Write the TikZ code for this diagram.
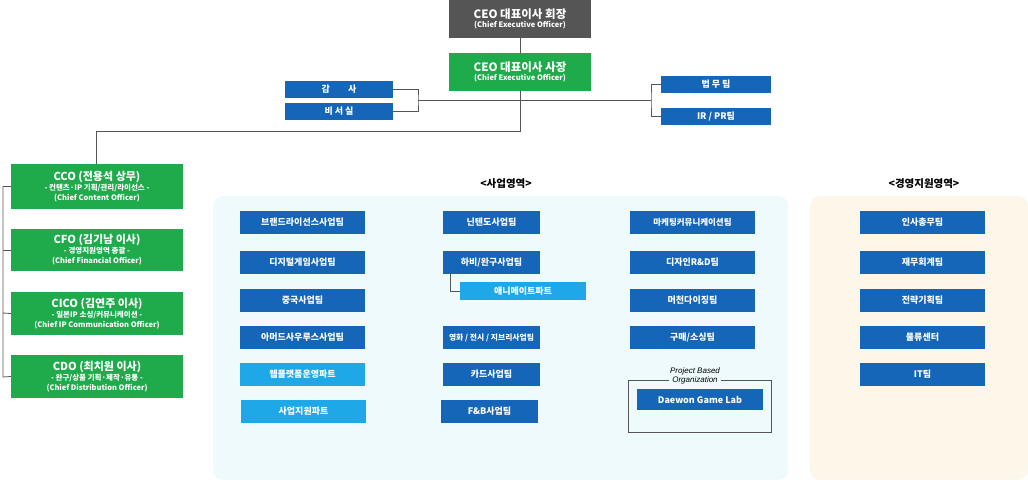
\documentclass[tikz,border=0pt]{standalone}
\usepackage{fontspec}
\setmainfont{Noto Sans CJK KR}
\newfontfamily\kr{Noto Sans CJK KR}
\newfontfamily\lat{Liberation Sans}
\definecolor{dblue}{HTML}{1565B8}
\definecolor{lblue}{HTML}{1EA8E8}
\definecolor{grn}{HTML}{1FAA4C}
\definecolor{dgray}{HTML}{555555}
\definecolor{bgc}{HTML}{EEFAFC}
\definecolor{bgm}{HTML}{FDF7EA}
\definecolor{lnc}{HTML}{555555}
\tikzset{
 px/.style={x=1pt,y=-1pt},
 bx/.style={inner sep=0pt,text=white,font=\kr\bfseries\fontsize{9}{10}\selectfont,align=center},
 ln/.style={draw=lnc,line width=0.8pt}
}
\newcommand{\bxat}[7]{\node[bx,fill=#6,minimum width=#3pt-#1pt,minimum height=#4pt-#2pt] (#5) at ({(#1+#3)/2},{(#2+#4)/2}) {#7};}
\newcommand{\ctxt}[3]{{\fontsize{11}{11}\selectfont #1}\\[0pt]{\fontsize{7.5}{9}\selectfont #2}\\{\fontsize{7.5}{9}\selectfont #3}}
\begin{document}
\begin{tikzpicture}[px]
\useasboundingbox (0,0) rectangle (1028,482);
\fill[bgc,rounded corners=10pt] (213,196) rectangle (788,480);
\fill[bgm,rounded corners=10pt] (810,196) rectangle (1028,480);
\node[font=\kr\bfseries\fontsize{10.5}{11}\selectfont] (t1) at (506,184) {<사업영역>};
\node[font=\kr\bfseries\fontsize{10.5}{11}\selectfont] (t2) at (924,184) {<경영지원영역>};
% top
\bxat{449}{0}{591}{38}{ceo}{dgray}{{\fontsize{11.5}{12}\selectfont CEO 대표이사 회장}\\[-1pt]{\fontsize{7.5}{8}\selectfont (Chief Executive Officer)}}
\bxat{449}{53}{591}{91}{pres}{grn}{{\fontsize{11.5}{12}\selectfont CEO 대표이사 사장}\\[-1pt]{\fontsize{7.5}{8}\selectfont (Chief Executive Officer)}}
\bxat{285}{81}{393}{98}{gam}{dblue}{감\quad\quad 사}
\bxat{285}{103}{393}{120}{bis}{dblue}{비 서 실}
\bxat{661}{76}{771}{93}{law}{dblue}{법 무 팀}
\bxat{661}{108}{771}{125}{ir}{dblue}{IR / PR팀}
\coordinate (hl) at (418,100);
\coordinate (hr) at (651,100);
\draw[ln] (ceo.south) -- (pres.north);
\draw[ln] (pres.south) |- (96,131) -- (96,164);
\draw[ln] (hl) -- (hr);
\draw[ln] (gam.east) -| (hl) |- (bis.east);
\draw[ln] (law.west) -| (hr) |- (ir.west);
% C-level
\bxat{11}{164}{183}{209}{cco}{grn}{\ctxt{CCO (전용석 상무)}{- 컨텐츠·IP 기획/관리/라이선스 -}{(Chief Content Officer)}}
\bxat{11}{229}{183}{271}{cfo}{grn}{\ctxt{CFO (김기남 이사)}{- 경영지원영역 총괄 -}{(Chief Financial Officer)}}
\bxat{11}{292}{183}{335}{cico}{grn}{\ctxt{CICO (김연주 이사)}{- 일본IP 소싱/커뮤니케이션 -}{(Chief IP Communication Officer)}}
\bxat{11}{355}{183}{398}{cdo}{grn}{\ctxt{CDO (최치원 이사)}{- 완구/상품 기획·제작·유통 -}{(Chief Distribution Officer)}}
\coordinate (lt) at (3,186);
\coordinate (lb) at (3,377);
\draw[ln] (cco.west) -| (lt) -- (lb) -- (cdo.west);
\draw[ln] (cfo.west) -- (3,250);
\draw[ln] (cico.west) -- (3,313);
% column 1
\bxat{240}{211}{365}{234}{a1}{dblue}{브랜드라이선스사업팀}
\bxat{240}{251}{365}{274}{a2}{dblue}{디지털게임사업팀}
\bxat{240}{289}{365}{312}{a3}{dblue}{중국사업팀}
\bxat{240}{326}{365}{349}{a4}{dblue}{아머드사우루스사업팀}
\bxat{240}{363}{365}{386}{a5}{lblue}{웹플랫폼운영파트}
\bxat{241}{400}{366}{423}{a6}{lblue}{사업지원파트}
% column 2
\bxat{443}{211}{540}{234}{b1}{dblue}{닌텐도사업팀}
\bxat{443}{251}{540}{274}{b2}{dblue}{하비/완구사업팀}
\bxat{460}{282}{586}{300}{b2a}{lblue}{애니메이트파트}
\bxat{443}{326}{540}{349}{b4}{dblue}{\fontsize{7.8}{9}\selectfont 영화 / 전시 / 지브리사업팀}
\bxat{443}{363}{540}{386}{b5}{dblue}{카드사업팀}
\bxat{441}{400}{538}{423}{b6}{dblue}{F\&B사업팀}
\draw[ln] (450,274) |- (b2a.west);
% column 3
\bxat{630}{211}{755}{234}{c1}{dblue}{\fontsize{8.5}{9}\selectfont 마케팅커뮤니케이션팀}
\bxat{630}{251}{755}{274}{c2}{dblue}{디자인R\&D팀}
\bxat{630}{289}{755}{312}{c3}{dblue}{머천다이징팀}
\bxat{630}{326}{755}{349}{c4}{dblue}{구매/소싱팀}
\draw[ln] (628,380) rectangle (771,432);
\node[font=\lat\itshape\fontsize{8}{9}\selectfont,align=center,fill=bgc,inner sep=1pt] (pbo) at (695,376) {Project Based\\Organization};
\bxat{637}{389}{763}{410}{dgl}{dblue}{\fontsize{9}{9}\selectfont Daewon Game Lab}
% mgmt
\bxat{860}{211}{985}{234}{m1}{dblue}{인사총무팀}
\bxat{860}{251}{985}{274}{m2}{dblue}{재무회계팀}
\bxat{860}{289}{985}{312}{m3}{dblue}{전략기획팀}
\bxat{860}{326}{985}{349}{m4}{dblue}{물류센터}
\bxat{860}{363}{985}{386}{m5}{dblue}{IT팀}
\end{tikzpicture}
\end{document}
